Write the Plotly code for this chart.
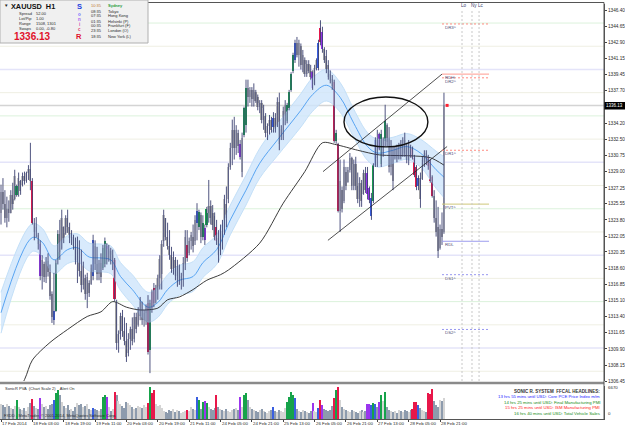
import plotly.graph_objects as go

W, H = 625, 429

# ---------------- data ----------------
highs = [
    1327.6, 1328.3, 1327.0, 1326.3, 1325.9, 1327.0, 1327.8, 1329.2, 1327.6, 1328.9,
    1328.1, 1328.9, 1329.0, 1329.0, 1329.7, 1332.1, 1328.3, 1324.0, 1324.1, 1322.4,
    1321.6, 1320.0, 1319.3, 1319.8, 1320.2, 1319.0, 1316.1, 1318.1, 1319.5, 1322.7,
    1323.8, 1324.9, 1323.1, 1324.3, 1324.9, 1323.5, 1322.7, 1322.2, 1321.9, 1322.0,
    1321.6, 1320.6, 1319.3, 1317.9, 1318.1, 1317.3, 1319.0, 1322.2, 1321.6, 1320.9,
    1319.5, 1320.2, 1321.1, 1321.9, 1321.3, 1321.1, 1320.8, 1320.6, 1319.7, 1315.2,
    1311.9, 1313.8, 1314.1, 1313.3, 1312.7, 1311.6, 1312.3, 1313.3, 1313.8, 1313.8,
    1314.4, 1315.5, 1315.0, 1314.1, 1314.7, 1315.7, 1315.2, 1316.3, 1317.0, 1316.8,
    1317.9, 1320.0, 1321.6, 1324.9, 1324.0, 1323.5, 1322.7, 1320.9, 1320.4, 1319.8,
    1319.5, 1319.0, 1318.1, 1319.8, 1322.7, 1322.7, 1321.9, 1322.5, 1323.3, 1324.3,
    1325.6, 1324.9, 1324.6, 1324.3, 1323.3, 1325.2, 1328.1, 1325.9, 1325.4, 1324.6,
    1323.8, 1322.7, 1323.3, 1323.8, 1326.5, 1327.4, 1329.9, 1332.1, 1334.6, 1334.9,
    1334.0, 1333.5, 1332.4, 1333.2, 1336.0, 1338.9, 1338.9, 1338.1, 1338.1, 1338.5,
    1337.8, 1337.3, 1336.7, 1336.7, 1336.2, 1335.3, 1334.2, 1335.1, 1334.9, 1335.4,
    1335.3, 1337.0, 1337.5, 1334.0, 1336.0, 1336.7, 1336.4, 1337.8, 1339.7, 1341.8,
    1343.2, 1343.5, 1343.2, 1342.8, 1342.1, 1341.3, 1341.0, 1341.0, 1340.5, 1339.9,
    1340.5, 1341.2, 1343.2, 1345.3, 1344.6, 1342.4, 1342.1, 1341.0, 1339.9, 1339.4,
    1338.9, 1333.5, 1332.1, 1330.3, 1327.4, 1330.3, 1329.5, 1329.5, 1331.0, 1330.6,
    1330.3, 1330.6, 1328.9, 1328.4, 1328.1, 1329.2, 1329.5, 1329.5, 1327.4, 1326.7,
    1329.9, 1332.7, 1333.5, 1333.2, 1333.5, 1332.7, 1336.2, 1334.2, 1333.8, 1332.4,
    1331.7, 1331.7, 1331.9, 1332.1, 1332.4, 1332.7, 1333.2, 1332.1, 1332.4, 1331.9,
    1331.7, 1330.8, 1329.7, 1328.6, 1328.9, 1330.6, 1331.3, 1331.3, 1330.8, 1330.3,
    1328.6, 1327.0, 1325.9, 1325.2, 1323.3, 1324.6, 1337.5,
]
lows = [
    1323.3, 1324.9, 1323.5, 1323.0, 1323.6, 1324.5, 1324.9, 1325.9, 1326.3, 1326.3,
    1326.5, 1327.4, 1327.6, 1327.8, 1328.1, 1327.0, 1323.3, 1321.6, 1321.9, 1320.6,
    1317.3, 1316.3, 1317.1, 1317.0, 1317.7, 1315.2, 1312.7, 1312.5, 1313.9, 1319.0,
    1319.5, 1320.6, 1321.3, 1322.2, 1322.4, 1321.3, 1321.1, 1320.6, 1319.0, 1317.0,
    1317.7, 1316.0, 1316.3, 1315.2, 1314.3, 1315.5, 1316.8, 1317.3, 1318.4, 1317.3,
    1317.3, 1317.0, 1318.4, 1318.7, 1319.0, 1319.3, 1319.0, 1318.4, 1315.0, 1309.8,
    1309.5, 1310.9, 1311.2, 1310.3, 1308.5, 1309.1, 1309.8, 1310.3, 1310.6, 1311.6,
    1312.3, 1313.0, 1312.5, 1312.3, 1312.5, 1309.3, 1307.3, 1313.8, 1314.4, 1314.8,
    1315.2, 1316.3, 1316.3, 1320.9, 1321.6, 1320.6, 1319.5, 1318.1, 1317.9, 1317.3,
    1316.6, 1316.8, 1316.3, 1316.6, 1318.4, 1319.3, 1320.0, 1320.6, 1320.3, 1321.1,
    1321.6, 1322.7, 1321.3, 1321.6, 1321.1, 1323.0, 1323.5, 1323.3, 1322.7, 1321.6,
    1321.1, 1319.2, 1320.0, 1320.6, 1322.2, 1323.0, 1325.6, 1329.2, 1329.7, 1330.3,
    1330.8, 1331.0, 1330.3, 1328.4, 1332.7, 1333.2, 1336.0, 1336.4, 1336.0, 1336.0,
    1336.4, 1335.6, 1335.3, 1334.2, 1333.5, 1332.7, 1332.4, 1333.0, 1333.2, 1333.2,
    1333.2, 1333.8, 1331.3, 1332.4, 1332.4, 1334.0, 1334.2, 1335.6, 1337.6, 1339.6,
    1340.7, 1341.3, 1340.3, 1340.0, 1339.7, 1339.2, 1339.2, 1339.6, 1338.9, 1337.8,
    1338.3, 1339.9, 1339.9, 1342.6, 1341.8, 1340.7, 1339.6, 1338.9, 1338.5, 1337.8,
    1332.1, 1332.0, 1324.6, 1322.5, 1324.6, 1325.6, 1327.0, 1327.8, 1328.9, 1327.0,
    1327.0, 1327.0, 1325.6, 1325.2, 1325.2, 1326.5, 1326.7, 1326.0, 1325.6, 1323.8,
    1325.6, 1329.5, 1329.5, 1331.3, 1329.5, 1330.6, 1331.7, 1331.7, 1328.9, 1328.6,
    1327.0, 1330.3, 1330.0, 1330.3, 1330.3, 1330.6, 1330.6, 1329.9, 1329.7, 1330.5,
    1330.3, 1328.4, 1327.0, 1327.0, 1325.1, 1328.1, 1329.5, 1329.7, 1329.2, 1327.8,
    1326.2, 1323.5, 1322.0, 1319.7, 1320.6, 1321.1, 1322.3,
]
opens = [
    1324.5, 1326.8, 1325.5, 1324.0, 1325.0, 1324.5, 1326.5, 1326.0, 1326.5, 1327.4,
    1328.0, 1327.6, 1328.5, 1328.0, 1328.8, 1329.3, 1328.0, 1323.5, 1322.5, 1322.2,
    1321.2, 1317.8, 1319.0, 1317.6, 1319.4, 1318.2, 1315.8, 1313.0, 1314.0, 1319.5,
    1322.3, 1320.8, 1323.0, 1322.4, 1324.0, 1323.0, 1321.8, 1322.0, 1321.0, 1319.5,
    1320.8, 1318.3, 1316.8, 1317.5, 1315.8, 1317.0, 1316.9, 1317.8, 1321.0, 1319.0,
    1318.0, 1319.2, 1318.6, 1319.0, 1321.0, 1319.5, 1320.5, 1319.4, 1319.5, 1315.0,
    1310.5, 1311.5, 1313.5, 1311.8, 1310.8, 1309.5, 1311.0, 1312.0, 1311.0, 1313.3,
    1312.5, 1313.5, 1315.0, 1313.0, 1313.8, 1314.8, 1309.8, 1316.0, 1316.5, 1315.0,
    1316.2, 1317.5, 1318.0, 1321.5, 1324.0, 1322.0, 1321.0, 1320.0, 1318.5, 1319.5,
    1317.8, 1318.8, 1317.2, 1317.8, 1319.0, 1321.1, 1320.2, 1321.5, 1322.0, 1321.5,
    1323.5, 1323.0, 1324.3, 1322.0, 1322.9, 1323.2, 1324.5, 1325.3, 1324.5, 1324.2,
    1323.0, 1321.8, 1320.4, 1322.6, 1322.5, 1325.5, 1326.0, 1329.5, 1331.5, 1333.5,
    1331.5, 1333.2, 1332.0, 1329.0, 1332.9, 1334.0, 1338.0, 1337.0, 1337.8, 1336.8,
    1337.6, 1337.0, 1336.0, 1336.4, 1334.6, 1335.0, 1333.2, 1333.9, 1334.6, 1333.8,
    1334.8, 1333.9, 1336.5, 1332.8, 1333.0, 1335.0, 1334.4, 1335.8, 1337.8, 1339.8,
    1341.0, 1342.8, 1341.6, 1342.5, 1340.5, 1341.0, 1339.5, 1340.6, 1339.8, 1339.7,
    1338.4, 1340.0, 1340.2, 1344.5, 1344.0, 1342.2, 1341.5, 1340.5, 1339.5, 1339.0,
    1338.6, 1332.3, 1332.0, 1324.8, 1327.0, 1325.8, 1329.0, 1327.9, 1329.2, 1330.5,
    1327.5, 1329.8, 1327.5, 1326.0, 1327.8, 1326.6, 1328.8, 1328.8, 1327.2, 1324.2,
    1325.8, 1329.7, 1332.4, 1333.0, 1329.8, 1330.8, 1332.3, 1334.0, 1332.5, 1329.5,
    1331.2, 1330.5, 1331.4, 1330.4, 1331.8, 1330.8, 1332.4, 1331.5, 1330.2, 1331.7,
    1331.5, 1330.5, 1329.5, 1327.4, 1328.3, 1328.2, 1330.0, 1331.0, 1330.6, 1330.2,
    1328.4, 1326.4, 1324.0, 1323.0, 1320.8, 1322.8, 1322.5,
]
closes = [
    1326.8, 1325.5, 1324.0, 1325.0, 1324.5, 1326.5, 1325.5, 1328.5, 1327.4, 1328.3,
    1326.9, 1328.5, 1328.0, 1328.8, 1329.3, 1328.0, 1323.5, 1322.5, 1323.0, 1321.2,
    1317.8, 1319.5, 1317.6, 1319.4, 1318.2, 1315.6, 1313.3, 1314.0, 1319.2, 1322.3,
    1320.3, 1324.0, 1321.8, 1324.0, 1323.0, 1321.8, 1322.4, 1321.0, 1319.5, 1320.8,
    1318.3, 1316.8, 1318.9, 1315.8, 1317.6, 1315.9, 1318.6, 1321.6, 1319.0, 1318.0,
    1319.2, 1317.6, 1320.8, 1321.5, 1319.5, 1320.7, 1319.4, 1320.0, 1315.3, 1310.5,
    1311.5, 1313.5, 1311.8, 1310.8, 1309.0, 1311.0, 1312.0, 1310.8, 1313.3, 1312.0,
    1314.0, 1315.0, 1313.0, 1313.8, 1314.5, 1309.6, 1314.8, 1314.3, 1314.8, 1316.5,
    1317.5, 1319.6, 1321.2, 1324.3, 1322.0, 1321.0, 1320.0, 1318.5, 1319.8, 1317.8,
    1318.8, 1317.2, 1317.8, 1319.2, 1322.0, 1319.7, 1321.5, 1322.2, 1321.0, 1323.8,
    1324.8, 1324.6, 1322.0, 1323.5, 1321.6, 1325.0, 1325.3, 1324.0, 1323.2, 1322.0,
    1321.5, 1320.0, 1322.6, 1321.5, 1326.0, 1324.0, 1329.5, 1331.5, 1333.5, 1331.5,
    1333.5, 1331.8, 1330.6, 1332.6, 1335.8, 1338.0, 1337.0, 1337.8, 1336.8, 1337.8,
    1336.6, 1336.0, 1336.4, 1334.6, 1335.8, 1333.2, 1333.9, 1334.6, 1333.5, 1334.8,
    1333.6, 1336.5, 1332.0, 1333.6, 1335.5, 1336.2, 1336.2, 1337.6, 1339.5, 1341.6,
    1342.8, 1341.6, 1342.8, 1340.5, 1341.6, 1339.5, 1340.6, 1339.8, 1339.2, 1338.0,
    1340.2, 1341.0, 1342.9, 1343.0, 1342.2, 1341.0, 1340.0, 1339.2, 1338.8, 1338.2,
    1332.3, 1333.2, 1324.8, 1328.0, 1325.0, 1329.5, 1327.5, 1329.2, 1330.5, 1327.5,
    1329.8, 1327.5, 1326.0, 1327.8, 1325.8, 1328.8, 1327.0, 1326.6, 1325.9, 1326.2,
    1329.7, 1332.4, 1330.5, 1331.4, 1333.0, 1332.5, 1334.5, 1332.2, 1329.5, 1331.8,
    1328.0, 1331.4, 1330.4, 1331.8, 1330.6, 1332.4, 1331.0, 1330.2, 1332.0, 1330.7,
    1330.5, 1328.6, 1327.3, 1328.3, 1326.0, 1330.3, 1331.0, 1330.0, 1329.6, 1328.0,
    1326.4, 1324.0, 1322.5, 1320.5, 1322.8, 1322.0, 1336.13,
]
volumes = [
    3000, 2800, 2400, 3000, 2600, 2200, 2000, 2600, 3800, 2400,
    2000, 1800, 2200, 1600, 2400, 3200, 4000, 2600, 2200, 2000,
    4200, 3000, 2400, 2600, 2000, 2800, 3000, 3800, 5200, 5800,
    4800, 3400, 2600, 2200, 2800, 1800, 2000, 1600, 2400, 3200,
    2800, 3000, 2400, 2600, 3000, 2000, 1800, 2200, 2000, 1800,
    1600, 2000, 4400, 4800, 4400, 2400, 1600, 2000, 5400, 4800,
    3600, 3000, 2600, 2200, 3400, 3200, 2800, 2400, 2000, 2200,
    2600, 2400, 2200, 2800, 2400, 3200, 6400, 5200, 5800, 3000,
    2600, 2800, 2200, 1600, 1400, 1200, 1800, 1600, 2000, 1400,
    1800, 1600, 1200, 1400, 1600, 1800, 1600, 2400, 2000, 1800,
    4400, 3800, 2000, 3400, 3600, 3200, 2400, 2000, 1800, 2200,
    4800, 2400, 2000, 1800, 1600, 2000, 1600, 1400, 1800, 2000,
    2200, 1800, 4400, 2400, 4800, 5200, 3800, 2400, 2000, 1800,
    1600, 1400, 1800, 2000, 1600, 1400, 1200, 1600, 1800, 2400,
    1600, 1400, 1800, 1600, 1400, 2200, 3400, 4400, 5400, 4800,
    4200, 2000, 1600, 1400, 1800, 1600, 1400, 1200, 1600, 3200,
    1600, 1400, 2200, 3800, 2800, 2000, 1800, 1600, 1800, 2600,
    4200, 5800, 6400, 3800, 2400, 2000, 1800, 1600, 1400, 1800,
    1600, 1400, 1200, 1600, 1800, 1400, 1600, 3000, 3000, 2800,
    3200, 3000, 2400, 3400, 4800, 3600, 5400, 2400, 1800, 1600,
    1400, 1600, 1200, 1800, 1600, 1400, 1800, 1600, 1400, 1800,
    2000, 3400, 3400, 2800, 2200, 1800, 1600, 1400, 5200, 5000,
    6000, 3600, 2800, 2400, 3800, 3600, 4200,
]
# PVA colour classes (bar indices)
green_bars = [8, 28, 29, 52, 53, 76, 101, 103, 105, 124, 125, 146, 147, 148, 149, 171, 190, 194, 196]
red_bars = [16, 58, 75, 77, 78, 95, 110, 163, 170, 172, 210, 211, 212, 218, 219, 220]
blue_bars = [27, 47, 100, 139, 150, 162, 189, 191, 213]
purple_bars = [20, 54, 104, 122, 159, 164, 187, 188, 193]

time_label_idx = [0, 16, 32, 48, 64, 80, 96, 112, 128, 144, 160, 176, 192, 208, 224]
time_labels = ["17 Feb 2014", "18 Feb 03:00", "18 Feb 19:00", "19 Feb 11:00", "20 Feb 03:00",
               "20 Feb 19:00", "21 Feb 11:00", "24 Feb 05:00", "24 Feb 21:00", "25 Feb 13:00",
               "26 Feb 05:00", "26 Feb 21:00", "27 Feb 13:00", "28 Feb 05:00", "28 Feb 21:00"]
price_ticks = [1346.40, 1344.65, 1342.90, 1341.15, 1339.45, 1337.70, 1334.20, 1332.50, 1330.75,
               1329.00, 1327.25, 1325.55, 1323.80, 1322.05, 1320.35, 1318.60, 1316.85, 1315.10,
               1313.40, 1311.65, 1309.90, 1308.15, 1306.45]
price_range = [1306.45, 1347.05]
last_price = 1336.13
vol_max = 6670

# EMA band (dragon) read at sample bars
ema_idx = [0, 16, 21, 27, 34, 39, 45, 51, 56, 61, 67, 75, 80, 85, 91, 98, 103, 110, 117,
           125, 132, 141, 153, 159, 166, 173, 180, 187, 192, 200, 207, 214, 222, 226]
ema_mid = [1313.8, 1321.9, 1321.4, 1319.5, 1320.6, 1320.8, 1319.8, 1319.7, 1319.5, 1317.7,
           1316.3, 1314.4, 1314.9, 1316.3, 1317.3, 1317.7, 1319.2, 1320.6, 1323.8, 1327.0,
           1329.9, 1332.4, 1335.6, 1337.3, 1338.3, 1337.0, 1334.2, 1331.7, 1331.0, 1331.3,
           1331.7, 1331.0, 1329.2, 1328.4]
ema_upper = [1316.0, 1323.4, 1322.9, 1321.0, 1322.1, 1322.3, 1321.3, 1321.2, 1321.0, 1319.2,
             1317.9, 1316.0, 1316.5, 1317.9, 1318.9, 1319.3, 1320.8, 1322.2, 1325.4, 1328.6,
             1331.5, 1334.1, 1337.4, 1339.1, 1340.0, 1338.6, 1335.7, 1333.2, 1332.5, 1332.7,
             1333.1, 1332.5, 1331.2, 1330.6]
ema_lower = [1311.6, 1320.4, 1319.9, 1318.0, 1319.1, 1319.3, 1318.3, 1318.2, 1318.0, 1316.2,
             1314.7, 1312.8, 1313.3, 1314.7, 1315.7, 1316.1, 1317.6, 1319.0, 1322.2, 1325.4,
             1328.3, 1330.7, 1333.8, 1335.5, 1336.6, 1335.4, 1332.7, 1330.2, 1329.5, 1329.9,
             1330.3, 1329.5, 1327.2, 1326.2]
slow_idx = [0, 12, 16, 25, 34, 44, 51, 57, 64, 71, 80, 85, 91, 98, 105, 112, 116, 132, 144,
            155, 164, 171, 182, 193, 209, 219, 226]
slow_val = [1302.3, 1306.6, 1308.7, 1310.6, 1312.0, 1313.4, 1313.9, 1315.0, 1314.4, 1314.1,
            1314.3, 1315.2, 1315.5, 1316.3, 1317.3, 1317.9, 1318.4, 1321.3, 1325.6, 1329.0,
            1332.1, 1331.9, 1331.3, 1330.8, 1330.7, 1330.5, 1329.7]

# drawn objects
channel_lines = [((164.3, 1329.0), (225.0, 1339.5)), ((166.8, 1321.6), (227.6, 1331.7))]
ellipse_box = (175.0, 217.8, 1331.66, 1337.04)
pivot_names = ["DR3^", "RDH", "DR2^", "DR1^", "PVT^", "RDL", "DS1^", "DS2^"]
pivot_levels = [1344.9, 1339.5, 1339.1, 1331.3, 1325.5, 1321.5, 1317.9, 1312.0]
pivot_colors = ["#ff8a80", "#ff9a90", "#ff8a80", "#ff8a80", "#cfc77a", "#9c9cee", "#9898f0", "#9898f0"]
pivot_dash = ["2px,2px", "solid", "2px,2px", "2px,2px", "solid", "solid", "2px,2px", "2px,2px"]
pivot_span = (225.0, 249.0)
session_names = ["Lo", "Ny", "Lc"]
session_idx = [235.2, 240.3, 243.9]
grid_levels = [1307.5, 1310.0, 1312.5, 1315.0, 1317.5, 1320.0, 1322.5, 1325.0, 1327.5,
               1330.0, 1332.5, 1335.0, 1337.5, 1340.0, 1342.5, 1345.0]

info_rows = [("Spread", "52.00"), ("Lot/Pip", "1.00"), ("Range", "1508, 1301"), ("Swaps", "0.00, -0.80")]
sessions_time = ["10:35", "08:35", "07:35", "01:35", "00:35", "23:35", "18:35"]
sessions_city = ["Sydney", "Tokyo", "Hong Kong", "Helsinki (P)", "Frankfurt (F)", "London (O)", "New York (L)"]
news_lines = [("SONIC R. SYSTEM  FFCAL HEADLINES:", "#333333"),
              ("13 hrs 55 mins until USD: Core PCE Price Index m/m", "#1a1aff"),
              ("14 hrs 25 mins until USD: Final Manufacturing PMI", "#138a13"),
              ("15 hrs 25 mins until USD: ISM Manufacturing PMI", "#ff1a1a"),
              ("16 hrs 40 mins until USD: Total Vehicle Sales", "#138a13")]

# ---------------- styling ----------------
FONT = "Liberation Sans"
TXT = "#2a2a2a"
WICK = "#3c4272"
PVA = {"G": "#16a34a", "R": "#e8174a", "B": "#3a5fe0", "P": "#9b35ee"}


def px(x):
    return x / W


def py(y):
    return 1 - y / H


n = len(highs)
idx = list(range(n))
cls = ["n"] * n
for k, lst in (("G", green_bars), ("R", red_bars), ("B", blue_bars), ("P", purple_bars)):
    for i in lst:
        cls[i] = k

body_col, vol_col, base, height = [], [], [], []
for i in idx:
    up = closes[i] >= opens[i]
    if cls[i] == "n":
        body_col.append("#c8c8c8" if up else "#a4a4a4")
        vol_col.append("#d4d4d4" if up else "#8d9bad")
    else:
        body_col.append(PVA[cls[i]])
        vol_col.append(PVA[cls[i]])
    base.append(min(opens[i], closes[i]))
    height.append(max(abs(closes[i] - opens[i]), 0.15))

wx, wy = [], []
for i in idx:
    wx += [i, i, None]
    wy += [lows[i], highs[i], None]

fig = go.Figure()

# EMA band
fig.add_trace(go.Scatter(x=ema_idx, y=ema_upper, mode="lines", line=dict(color="#c4e0f8", width=1, shape="spline"),
                         hoverinfo="skip", showlegend=False))
fig.add_trace(go.Scatter(x=ema_idx, y=ema_lower, mode="lines", line=dict(color="#c4e0f8", width=1, shape="spline"),
                         fill="tonexty", fillcolor="rgba(206,229,251,0.8)", hoverinfo="skip", showlegend=False))
fig.add_trace(go.Scatter(x=ema_idx, y=ema_mid, mode="lines", line=dict(color="#4a9cf0", width=0.9, shape="spline"),
                         hoverinfo="skip", showlegend=False))
fig.add_trace(go.Scatter(x=slow_idx, y=slow_val, mode="lines", line=dict(color="#262626", width=0.9, shape="spline", smoothing=0.8),
                         hoverinfo="skip", showlegend=False))
# bars
fig.add_trace(go.Scatter(x=wx, y=wy, mode="lines", line=dict(color=WICK, width=0.9), hoverinfo="skip", showlegend=False))
fig.add_trace(go.Bar(x=idx, y=height, base=base, width=0.85, marker=dict(color=body_col, line=dict(width=0)),
                     hoverinfo="skip", showlegend=False))
# volume
fig.add_trace(go.Bar(x=idx, y=volumes, width=0.65, marker=dict(color=vol_col, line=dict(width=0)),
                     xaxis="x2", yaxis="y2", hoverinfo="skip", showlegend=False))
# bid marker
fig.add_trace(go.Scatter(x=[n + 0.6], y=[last_price], mode="markers",
                         marker=dict(color="#ff2030", size=3, symbol="square"), hoverinfo="skip", showlegend=False))

shapes = []
for lv in grid_levels:
    if abs(lv % 10) < 1e-6:
        c, w = "#e4e4f9", 1.6
    elif abs(lv % 5) < 1e-6:
        c, w = "#dcf2dc", 1
    else:
        c, w = "#efefe3", 1
    shapes.append(dict(type="line", xref="x", yref="y", x0=-1, x1=310, y0=lv, y1=lv,
                       line=dict(color=c, width=w), layer="below"))
shapes.append(dict(type="line", xref="x", yref="y", x0=-1, x1=310, y0=last_price, y1=last_price,
                   line=dict(color="#d4d4d4", width=1.5), layer="below"))
for (a, b) in channel_lines:
    shapes.append(dict(type="line", xref="x", yref="y", x0=a[0], y0=a[1], x1=b[0], y1=b[1],
                       line=dict(color="#222222", width=0.8)))
shapes.append(dict(type="circle", xref="x", yref="y", x0=ellipse_box[0], x1=ellipse_box[1],
                   y0=ellipse_box[2], y1=ellipse_box[3], line=dict(color="#111111", width=1.4)))
for lv, c, d in zip(pivot_levels, pivot_colors, pivot_dash):
    shapes.append(dict(type="line", xref="x", yref="y", x0=pivot_span[0], x1=pivot_span[1], y0=lv, y1=lv,
                       line=dict(color=c, width=1, dash=d)))
for s in session_idx:
    shapes.append(dict(type="line", xref="x", yref="paper", x0=s, x1=s, y0=py(381), y1=py(9),
                       line=dict(color="#c8c8c8", width=1, dash="2px,2px")))
# frame
shapes.append(dict(type="line", xref="paper", yref="paper", x0=0, x1=px(604), y0=py(2.5), y1=py(2.5),
                   line=dict(color="#555555", width=1)))
shapes.append(dict(type="line", xref="paper", yref="paper", x0=0, x1=px(604), y0=py(383), y1=py(383),
                   line=dict(color="#8a8a8a", width=2.5)))
shapes.append(dict(type="line", xref="paper", yref="paper", x0=px(604), x1=px(604), y0=py(419), y1=py(2.5),
                   line=dict(color="#555555", width=1)))
# info panel
shapes.append(dict(type="rect", xref="paper", yref="paper", x0=0, x1=px(148), y0=py(43), y1=1,
                   fillcolor="#f0f0f0", line=dict(color="#b0b0b0", width=1)))
# price box
shapes.append(dict(type="rect", xref="paper", yref="paper", x0=px(604.5), x1=px(625), y0=py(109.5), y1=py(102),
                   fillcolor="#000000", line=dict(width=0)))

ann = []


def T(x, y, text, size=4.4, color=TXT, anchor="left", bold=False, xref="paper", yref="paper", yshift=0):
    if bold:
        text = "<b>" + text + "</b>"
    ann.append(dict(x=px(x) if xref == "paper" else x, y=py(y) if yref == "paper" else y,
                    xref=xref, yref=yref, text=text, showarrow=False, xanchor=anchor, yanchor="middle",
                    yshift=yshift, font=dict(family=FONT, size=size, color=color)))


# x labels
for i, lab in zip(time_label_idx, time_labels):
    ann.append(dict(x=i, y=py(423.5), xref="x2", yref="paper", text=lab, showarrow=False, xanchor="left",
                    yanchor="middle", xshift=-1, font=dict(family=FONT, size=4.4, color=TXT)))
# pivot labels
for name, lv in zip(pivot_names, pivot_levels):
    T(pivot_span[0] + 0.6, lv, name, size=4.4, color="#50507a", xref="x", yref="y", yshift=-3.5)
for name, s in zip(session_names, session_idx):
    ann.append(dict(x=s, y=py(5), xref="x", yref="paper", text=name, showarrow=False, xanchor="center",
                    xshift=2, yanchor="middle", font=dict(family=FONT, size=4.6, color="#40406e")))
# price box text
T(614.7, 105.8, f"{last_price:.2f}", size=4.5, color="#ffffff", anchor="center")
# volume axis labels
T(606, 387, str(vol_max), size=4.4)
T(606, 413, "0", size=4.4)
# info panel
T(2, 6, "▼", size=4.5, color="#222222")
T(9, 6.5, "XAUUSD  H1", size=7.3, color="#111111", bold=True)
for k, (a, b) in enumerate(info_rows):
    T(17, 13.5 + 5 * k, a, size=4.0)
    T(34, 13.5 + 5 * k, b, size=4.0)
T(12, 36.5, f"{last_price:.2f}", size=10, color="#e0102a", bold=True)
T(79, 6.5, "S", size=7.5, color="#2040e0", anchor="center", bold=True)
for k, (ch, col) in enumerate(zip("onic", ["#7070ff", "#a060f0", "#d050b0", "#e04070"])):
    T(79, 14 + 5.2 * k, ch, size=4.5, color=col, anchor="center", bold=True)
T(79, 37, "R", size=7.5, color="#e0102a", anchor="center", bold=True)
for k, (t, c) in enumerate(zip(sessions_time, sessions_city)):
    T(89, 6 + 5 * k, t, size=4.0, color="#c07830" if k == 0 else TXT)
    T(106, 6 + 5 * k, c, size=4.0, color="#1c9c3c" if k == 0 else TXT, bold=(k == 0))
# volume panel texts
T(3, 388.5, "SonicR PVA  (Chart Scale 2)    Alert On", size=4.0)
T(2, 415.5, "FXDD - MetaTrader, © 2001-2014, MetaQuotes Software Corp.", size=4.0)
for k, (t, c) in enumerate(news_lines):
    T(602, 391 + 5.6 * k, t, size=4.3 if k else 4.5, color=c, anchor="right", bold=(k == 0))

fig.update_layout(
    width=W, height=H, margin=dict(l=0, r=0, t=0, b=0),
    paper_bgcolor="#ffffff", plot_bgcolor="#ffffff",
    barmode="overlay", bargap=0, showlegend=False,
    font=dict(family=FONT, size=5, color=TXT),
    xaxis=dict(domain=[0, px(604)], range=[-0.51, 307.65], anchor="y", showticklabels=False,
               showgrid=False, zeroline=False, showline=False, ticks=""),
    yaxis=dict(domain=[py(381), py(4)], range=price_range, side="right", anchor="x",
               tickmode="array", tickvals=price_ticks, ticktext=[f"{v:.2f}" for v in price_ticks],
               tickfont=dict(family=FONT, size=4.7, color=TXT), ticks="outside", ticklen=2,
               tickcolor="#444444", showgrid=False, zeroline=False, showline=True,
               linecolor="#555555", linewidth=1, automargin=False),
    xaxis2=dict(domain=[0, px(604)], range=[-0.51, 307.65], anchor="y2", matches="x",
                tickmode="array", tickvals=time_label_idx, showticklabels=False, ticks="outside",
                ticklen=2, tickcolor="#444444", showgrid=False, zeroline=False, showline=True,
                linecolor="#555555", linewidth=1),
    yaxis2=dict(domain=[py(419), py(386)], range=[0, vol_max], side="right", anchor="x2",
                showticklabels=False, ticks="", showgrid=False, zeroline=False, showline=True,
                linecolor="#555555", linewidth=1),
    shapes=shapes, annotations=ann,
)

fig.write_html("out.html", config={"displayModeBar": False})
